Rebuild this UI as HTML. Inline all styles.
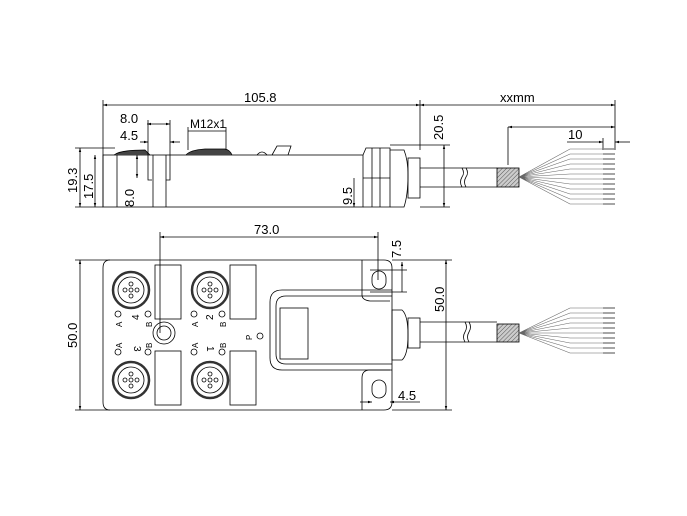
<!DOCTYPE html>
<html><head><style>body{margin:0;background:#fff}svg{display:block}text{font-family:"Liberation Sans",sans-serif;fill:#000}</style></head><body>
<svg width="687" height="516" viewBox="0 0 687 516" xmlns="http://www.w3.org/2000/svg">
<defs>
<marker id="a" viewBox="0 0 10 10" refX="10" refY="5" markerWidth="7" markerHeight="5" orient="auto-start-reverse"><path d="M0,2 L10,5 L0,8z" fill="#000"/></marker>
<pattern id="h" width="3" height="3" patternUnits="userSpaceOnUse" patternTransform="rotate(45)"><rect width="3" height="3" fill="#ccc"/><line x1="0" y1="0" x2="0" y2="3" stroke="#555" stroke-width="1"/></pattern>
<g id="p" stroke="#000" fill="none" stroke-width="0.8"><circle r="18" stroke-width="2.5" stroke="#333"/><circle r="13"/><circle r="2" cy="-6"/><circle r="2" cx="-6"/><circle r="2" cx="6"/><circle r="2" cy="6"/><circle r="2"/></g>
</defs>
<g stroke="#000" stroke-width="0.8" fill="none">
<rect x="103" y="155" width="260" height="52"/>
<line x1="117" y1="155" x2="117" y2="207"/><line x1="153" y1="155" x2="153" y2="207"/><line x1="166" y1="155" x2="166" y2="207"/>
<polyline points="148,155 148,180 152,180"/><polyline points="166,180 170,180 170,155"/>
<path d="M114,155 Q120,150 145,150 L150,155" fill="#444"/>
<path d="M186,155 Q190,150 205,149 L225,149 Q230,150 232,155" fill="#444"/>
<path d="M257,155 Q262,149 267,155"/><path d="M272,155 L277,146 L291,146 L288,155"/>
<path d="M363,155 L366,148 L390,148 L390,207 L363,207"/>
<line x1="372" y1="148" x2="372" y2="207"/><line x1="380" y1="148" x2="380" y2="207"/>
<line x1="363" y1="178" x2="390" y2="178"/>
<path d="M390,150 L404,150 Q408,160 408,175 Q408,195 404,207 L390,207"/>
<rect x="408" y="158" width="12" height="40"/>
<line x1="420" y1="168" x2="497" y2="168"/><line x1="420" y1="187" x2="497" y2="187"/>
<path d="M462,168 q3,5 0,9 q-3,5 0,10 M466,168 q3,5 0,9 q-3,5 0,10"/>
<rect x="497" y="168" width="22" height="19" fill="url(#h)"/>
<path d="M110,260 L384,260 Q392,260 392,268 L392,402 Q392,410 384,410 L110,410 Q103,410 103,402 L103,268 Q103,260 110,260z"/>
<path d="M362,260 L362,295 Q362,300 370,301 L390,301"/>
<path d="M362,410 L362,378 Q362,370 370,370 L390,370"/>
<rect x="372" y="271" width="14" height="18" rx="7"/>
<rect x="372" y="380" width="14" height="18" rx="7"/>
<path d="M392,290 L282,290 Q270,290 270,302 L270,358 Q270,370 282,370 L392,370"/>
<path d="M392,296 L286,296 Q276,296 276,306 L276,354 Q276,364 286,364 L392,364"/>
<rect x="280" y="308" width="28" height="51"/>
<rect x="155" y="265" width="26" height="54"/><rect x="230" y="265" width="26" height="54"/>
<rect x="155" y="351" width="26" height="54"/><rect x="230" y="351" width="26" height="54"/>
<circle cx="164" cy="333" r="11"/><circle cx="164" cy="333" r="7"/>
<circle cx="260" cy="336" r="3"/>
<path d="M392,310 L402,310 Q408,315 408,335 Q408,355 402,360 L392,360z"/>
<rect x="408" y="318" width="12" height="30"/>
<line x1="420" y1="322" x2="497" y2="322"/><line x1="420" y1="342" x2="497" y2="342"/>
<path d="M465,322 q3,5 0,10 q-3,5 0,10 M469,322 q3,5 0,10 q-3,5 0,10"/>
<rect x="497" y="324" width="22" height="18" fill="url(#h)"/>
<line x1="103" y1="100" x2="103" y2="207"/><line x1="420" y1="100" x2="420" y2="150"/><line x1="615" y1="100" x2="615" y2="150"/>
<line x1="103" y1="105" x2="420" y2="105" marker-start="url(#a)" marker-end="url(#a)"/>
<line x1="420" y1="105" x2="615" y2="105" marker-start="url(#a)" marker-end="url(#a)"/>
<line x1="508" y1="127" x2="508" y2="165"/>
<line x1="508" y1="127" x2="615" y2="127" marker-start="url(#a)" marker-end="url(#a)"/>
<line x1="567" y1="142" x2="603" y2="142" marker-end="url(#a)"/><line x1="603" y1="138" x2="603" y2="150"/>
<line x1="630" y1="142" x2="615" y2="142" marker-end="url(#a)"/>
<line x1="390" y1="145" x2="450" y2="145"/><line x1="420" y1="207" x2="450" y2="207"/>
<line x1="444" y1="145" x2="444" y2="207" marker-start="url(#a)" marker-end="url(#a)"/>
<line x1="75" y1="148" x2="115" y2="148"/><line x1="75" y1="207" x2="103" y2="207"/>
<line x1="80" y1="148" x2="80" y2="207" marker-start="url(#a)" marker-end="url(#a)"/>
<line x1="95" y1="155" x2="95" y2="207" marker-start="url(#a)" marker-end="url(#a)"/>
<line x1="137" y1="155" x2="137" y2="178" marker-start="url(#a)" marker-end="url(#a)"/>
<line x1="147" y1="124" x2="170" y2="124" marker-start="url(#a)" marker-end="url(#a)"/>
<line x1="148" y1="120" x2="148" y2="155"/><line x1="170" y1="120" x2="170" y2="155"/>
<line x1="140" y1="142" x2="148" y2="142" marker-end="url(#a)"/><line x1="180" y1="142" x2="170" y2="142" marker-end="url(#a)"/>
<line x1="188" y1="131" x2="226" y2="131"/><line x1="188" y1="127" x2="188" y2="150"/><line x1="226" y1="127" x2="226" y2="150"/>
<line x1="354" y1="178" x2="354" y2="207" marker-end="url(#a)"/>
<line x1="160" y1="232" x2="160" y2="333"/><line x1="378" y1="232" x2="378" y2="280"/>
<line x1="160" y1="237" x2="378" y2="237" marker-start="url(#a)" marker-end="url(#a)"/>
<line x1="370" y1="270" x2="407" y2="270"/><line x1="370" y1="292" x2="407" y2="292"/>
<line x1="402" y1="262" x2="402" y2="292" marker-start="url(#a)"/>
<line x1="75" y1="260" x2="110" y2="260"/><line x1="75" y1="410" x2="110" y2="410"/>
<line x1="80" y1="260" x2="80" y2="410" marker-start="url(#a)" marker-end="url(#a)"/>
<line x1="392" y1="260" x2="452" y2="260"/><line x1="392" y1="410" x2="452" y2="410"/>
<line x1="446" y1="260" x2="446" y2="410" marker-start="url(#a)" marker-end="url(#a)"/>
<line x1="360" y1="402" x2="372" y2="402" marker-end="url(#a)"/><line x1="420" y1="402" x2="390" y2="402" marker-end="url(#a)"/>
<circle cx="118" cy="314" r="3"/><circle cx="148" cy="314" r="3"/><circle cx="194" cy="314" r="3"/><circle cx="222" cy="314" r="3"/>
<circle cx="118" cy="352" r="3"/><circle cx="148" cy="352" r="3"/><circle cx="194" cy="352" r="3"/><circle cx="222" cy="352" r="3"/>
</g>
<use href="#p" x="131" y="290"/><use href="#p" x="210" y="290"/><use href="#p" x="131" y="380"/><use href="#p" x="210" y="380"/>
<g stroke="#666" stroke-width="0.6" fill="none">
<path d="M519,177 L570,149 L603,149 M519,177 L570,154 L603,154 M519,177 L570,159 L603,159 M519,177 L570,164 L603,164 M519,177 L570,169 L603,169 M519,177 L570,174 L603,174 M519,177 L570,179 L603,179 M519,177 L570,184 L603,184 M519,177 L570,189 L603,189 M519,177 L570,194 L603,194 M519,177 L570,199 L603,199 M519,177 L570,204 L603,204"/>
<path d="M519,333 L570,308 L603,308 M519,333 L570,313 L603,313 M519,333 L570,318 L603,318 M519,333 L570,323 L603,323 M519,333 L570,328 L603,328 M519,333 L570,333 L603,333 M519,333 L570,338 L603,338 M519,333 L570,343 L603,343 M519,333 L570,348 L603,348 M519,333 L570,353 L603,353"/>
</g>
<g stroke="#888" stroke-width="1.5">
<path d="M603,149h12M603,154h12M603,159h12M603,164h12M603,169h12M603,174h12M603,179h12M603,184h12M603,189h12M603,194h12M603,199h12M603,204h12"/>
<path d="M603,308h12M603,313h12M603,318h12M603,323h12M603,328h12M603,333h12M603,338h12M603,343h12M603,348h12M603,353h12"/>
</g>
<g font-size="13">
<text x="244" y="102">105.8</text>
<text x="500" y="102">xxmm</text>
<text x="568" y="139">10</text>
<text x="120" y="123">8.0</text>
<text x="120" y="140">4.5</text>
<text x="190" y="128" font-size="12">M12x1</text>
<text x="254" y="234">73.0</text>
<text x="398" y="400">4.5</text>
<text transform="translate(443,140) rotate(-90)">20.5</text>
<text transform="translate(77,193) rotate(-90)">19.3</text>
<text transform="translate(93,199) rotate(-90)">17.5</text>
<text transform="translate(134,207) rotate(-90)">8.0</text>
<text transform="translate(352,205) rotate(-90)">9.5</text>
<text transform="translate(401,258) rotate(-90)">7.5</text>
<text transform="translate(77,348) rotate(-90)">50.0</text>
<text transform="translate(444,312) rotate(-90)">50.0</text>
</g>
<g font-size="8">
<text transform="translate(122,327) rotate(-90)">A</text><text transform="translate(152,327) rotate(-90)">B</text>
<text transform="translate(198,327) rotate(-90)">A</text><text transform="translate(226,327) rotate(-90)">B</text>
<text transform="translate(122,348) rotate(-90)">A</text><text transform="translate(152,348) rotate(-90)">B</text>
<text transform="translate(198,348) rotate(-90)">A</text><text transform="translate(226,348) rotate(-90)">B</text>
<text transform="translate(252,340) rotate(-90)">P</text>
</g>
<g font-size="10">
<text transform="translate(139,320) rotate(-90)">4</text><text transform="translate(213,320) rotate(-90)">2</text>
<text transform="translate(134,346) rotate(90)">3</text><text transform="translate(207,346) rotate(90)">1</text>
</g>
</svg>
</body></html>
